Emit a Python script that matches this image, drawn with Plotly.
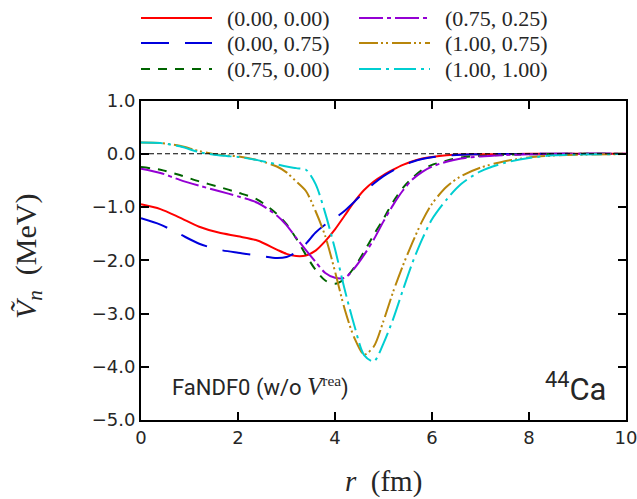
import plotly.graph_objects as go

# ---------------- data ----------------
r = [0.0, 0.4, 0.8, 1.2, 1.6, 2.0, 2.4, 2.8, 3.0, 3.2, 3.4, 3.6, 3.8, 4.0, 4.2, 4.4,
     4.6, 4.8, 5.0, 5.2, 5.4, 5.6, 5.8, 6.0, 6.3, 6.6, 7.0, 7.5, 8.0, 8.5, 9.0, 10.0]

v_000_000 = [-0.95, -1.04, -1.20, -1.37, -1.48, -1.55, -1.63, -1.80, -1.88, -1.92, -1.91,
             -1.82, -1.64, -1.42, -1.16, -0.90, -0.68, -0.52, -0.40, -0.30, -0.21, -0.14,
             -0.09, -0.06, -0.03, -0.015, -0.01, -0.005, -0.002, -0.001, 0.0, 0.0]
v_000_075 = [-1.21, -1.33, -1.51, -1.69, -1.80, -1.86, -1.91, -1.96, -1.94, -1.85, -1.69,
             -1.48, -1.33, -1.21, -1.07, -0.90, -0.72, -0.56, -0.42, -0.31, -0.22, -0.15,
             -0.10, -0.065, -0.035, -0.018, -0.01, -0.005, -0.002, -0.001, 0.0, 0.0]
v_075_000 = [-0.25, -0.30, -0.40, -0.52, -0.62, -0.73, -0.86, -1.13, -1.32, -1.59, -1.90,
             -2.18, -2.38, -2.44, -2.35, -2.13, -1.84, -1.52, -1.22, -0.90, -0.64, -0.45,
             -0.30, -0.21, -0.13, -0.07, -0.04, -0.02, -0.01, -0.005, 0.0, 0.0]
v_075_025 = [-0.28, -0.36, -0.49, -0.60, -0.70, -0.80, -0.92, -1.16, -1.34, -1.58, -1.81,
             -2.03, -2.24, -2.33, -2.33, -2.15, -1.90, -1.61, -1.27, -0.96, -0.69, -0.48,
             -0.34, -0.24, -0.15, -0.09, -0.05, -0.025, -0.01, -0.005, 0.0, 0.0]
v_100_075 = [0.21, 0.20, 0.15, 0.05, -0.02, -0.05, -0.12, -0.24, -0.35, -0.52, -0.70,
             -1.08, -1.55, -2.21, -2.92, -3.46, -3.77, -3.62, -3.14, -2.59, -2.10, -1.66,
             -1.26, -0.94, -0.62, -0.42, -0.26, -0.14, -0.07, -0.035, -0.02, -0.005]
v_100_100 = [0.21, 0.20, 0.14, 0.03, -0.03, -0.06, -0.12, -0.20, -0.24, -0.27, -0.30,
             -0.57, -1.12, -1.79, -2.55, -3.23, -3.78, -3.90, -3.56, -3.10, -2.56, -2.04,
             -1.60, -1.23, -0.86, -0.57, -0.33, -0.17, -0.08, -0.03, -0.015, -0.005]

labels = ["(0.00, 0.00)", "(0.00, 0.75)", "(0.75, 0.00)",
          "(0.75, 0.25)", "(1.00, 0.75)", "(1.00, 1.00)"]
series = [v_000_000, v_000_075, v_075_000, v_075_025, v_100_075, v_100_100]

x_ticks = [0, 2, 4, 6, 8, 10]
y_ticks = [1.0, 0.0, -1.0, -2.0, -3.0, -4.0, -5.0]

# ---------------- styles ----------------
colors = ["#ff0000", "#0000dd", "#006400", "#9400d3", "#b8860b", "#00ced1"]
dashes = ["solid", "28px,16px", "9px,8px", "24px,4px,4px,4px",
          "19px,3px,2px,3px,2px,4px", "22px,5px,3px,5px"]

TXT = "#262626"
SANS = "DejaVu Sans"
SERIF = "Liberation Serif"

W, H = 637, 499
ML, MR, MT, MB = 141, 11, 0, 79
PH = H - MT - MB          # plot-area height in px
PW = W - ML - MR

def py(px):               # pixel y (from top) -> paper y
    return (PH - (px - MT)) / PH

def pxx(px):              # pixel x -> paper x
    return (px - ML) / PW

fig = go.Figure()

for lab, vals, c, d in zip(labels, series, colors, dashes):
    fig.add_trace(go.Scatter(
        x=r, y=vals, mode="lines", name=lab, showlegend=False,
        line=dict(color=c, width=2, dash=d, shape="spline", smoothing=0.8),
        xaxis="x", yaxis="y"))

# ---------------- custom legend (own axes at the top) ----------------
leg_cols = [(141, 212, 225), (359, 430, 443)]
leg_rows = [18, 43, 69]
for i, (lab, c, d) in enumerate(zip(labels, colors, dashes)):
    col, row = divmod(i, 3)
    x0, x1, xt = leg_cols[col]
    yy = leg_rows[row]
    fig.add_trace(go.Scatter(
        x=[x0, x1], y=[yy, yy], mode="lines", showlegend=False, hoverinfo="skip",
        line=dict(color=c, width=2, dash=d), xaxis="x2", yaxis="y2"))
    fig.add_annotation(x=xt, y=yy, xref="x2", yref="y2", text=lab, showarrow=False,
                       xanchor="left", yanchor="middle",
                       font=dict(family=SERIF, size=22, color=TXT))

# zero reference line
fig.add_shape(type="line", xref="x", yref="y", x0=0, x1=10, y0=0, y1=0,
              line=dict(color="black", width=1, dash="5px,3px"))

axis_common = dict(showline=True, linewidth=2, linecolor="black", mirror="ticks",
                   ticks="inside", ticklen=8, tickwidth=1.5, tickcolor="black",
                   showgrid=False, zeroline=False, automargin=False,
                   ticklabeloverflow="allow",
                   tickfont=dict(family=SANS, size=18, color=TXT))

fig.update_layout(
    width=W, height=H, autosize=False,
    margin=dict(l=ML, r=MR, t=MT, b=MB, pad=0, autoexpand=False),
    paper_bgcolor="white", plot_bgcolor="white",
    showlegend=False,
    xaxis=dict(domain=[0, 1], range=[0, 10], tickvals=x_ticks,
               ticktext=[str(t) for t in x_ticks], anchor="y", **axis_common),
    yaxis=dict(domain=[0, py(100.5)], range=[-5, 1], tickvals=y_ticks,
               tickformat=".1f", anchor="x", **axis_common),
    xaxis2=dict(domain=[0, 1], range=[ML, W - MR], visible=False, anchor="y2",
                automargin=False),
    yaxis2=dict(domain=[py(90), 1], range=[90, MT], visible=False, anchor="x2",
                automargin=False),
)

# axis titles
fig.add_annotation(x=pxx(383), y=py(482), xref="paper", yref="paper",
                   text="<i>r</i>  (fm)", showarrow=False,
                   xanchor="center", yanchor="middle",
                   font=dict(family=SERIF, size=29, color=TXT))
fig.add_annotation(x=pxx(28), y=py(257), xref="paper", yref="paper",
                   text="<i>\u1E7C</i><sub><i>n</i></sub>  (MeV)", showarrow=False,
                   textangle=-90, xanchor="center", yanchor="middle",
                   font=dict(family=SERIF, size=30, color=TXT))

# in-plot labels
fig.add_annotation(x=pxx(170), y=py(386), xref="paper", yref="paper",
                   text="FaNDF0 (w/o <span style=\"font-family:Liberation Serif;"
                        "font-size:25px\"><i>V</i></span><sup><span style=\""
                        "font-family:Liberation Serif\">rea</span></sup>)",
                   showarrow=False, xanchor="left", yanchor="middle",
                   font=dict(family="Roboto", size=22, color=TXT))
fig.add_annotation(x=pxx(608), y=py(387), xref="paper", yref="paper",
                   text="<sup>44</sup>Ca", showarrow=False,
                   xanchor="right", yanchor="middle",
                   font=dict(family="Roboto", size=31, color=TXT))

fig.write_html("out.html")
